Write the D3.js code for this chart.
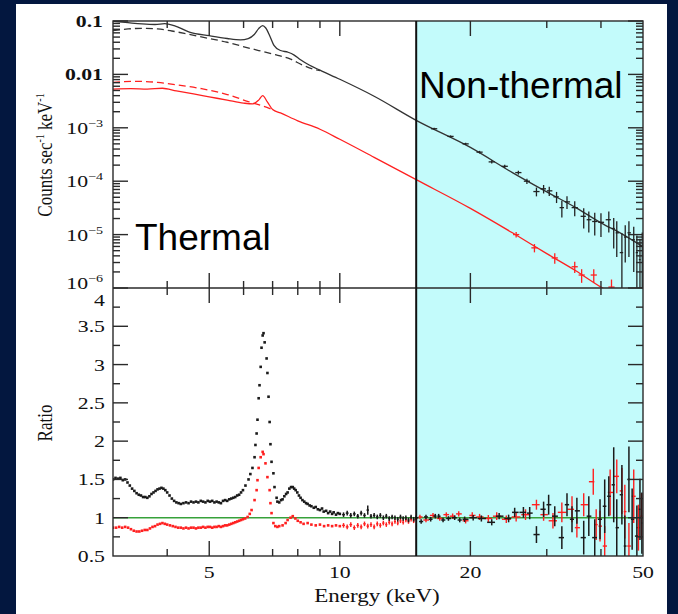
<!DOCTYPE html>
<html>
<head>
<meta charset="utf-8">
<script src="https://cdn.jsdelivr.net/npm/d3@7"></script>
<style>
  html, body { margin: 0; padding: 0; background: #03173f; }
  svg { display: block; }
</style>
</head>
<body>
<svg id="chart" width="678" height="614"></svg>
<script>
// ---- data ----
// top panel model curves: [energy keV, counts/s/keV]
var blackTotal = [[3.0,0.098],[3.2,0.094],[3.5,0.088],[3.75,0.086],[3.95,0.089],[4.15,0.082],[4.5,0.062],
  [5.0,0.053],[5.5,0.047],[5.9,0.0445],[6.15,0.047],[6.35,0.056],[6.5,0.072],[6.64,0.082],[6.75,0.074],
  [6.9,0.052],[7.05,0.035],[7.3,0.028],[7.6,0.026],[7.85,0.023],[8.1,0.019],[8.5,0.0150],[9.0,0.0120],
  [10,0.0081],[12,0.0039],[15,0.00138],[20,4.3e-4],[25,1.45e-4],[30,6.3e-5],[35,3.2e-5],[40,1.66e-5],
  [45,1.0e-5],[50,5.9e-6]];
var blackCont = [[3.0,0.066],[3.25,0.071],[3.5,0.073],[3.8,0.071],[4.1,0.065],[4.5,0.056],[5.0,0.047],
  [5.5,0.040],[5.9,0.0343],[6.5,0.028],[7.0,0.024],[7.7,0.0193],[8.2,0.0150],[8.7,0.0125],[9.0,0.0118]];
var redTotal = [[3.0,5.3e-3],[3.3,5.4e-3],[3.6,5.3e-3],[3.9,5.5e-3],[4.2,4.9e-3],[4.6,4.3e-3],[5.0,3.8e-3],
  [5.5,3.3e-3],[6.0,2.9e-3],[6.3,2.8e-3],[6.5,3.3e-3],[6.64,4.0e-3],[6.8,3.1e-3],[7.0,2.2e-3],[7.3,1.9e-3],
  [8.0,1.35e-3],[9.0,9.4e-4],[10,6.1e-4],[12,2.8e-4],[15,1.07e-4],[20,3.1e-5],[25,1.08e-5],[30,4.4e-6],
  [35,2.1e-6],[40,1.04e-6],[43,7.5e-7]];
var redCont = [[3.0,7.1e-3],[3.4,7.4e-3],[3.8,7.1e-3],[4.2,6.4e-3],[4.8,5.4e-3],[5.5,4.2e-3],[6.15,3.1e-3],
  [6.6,2.6e-3],[7.0,2.2e-3]];

// top panel data crosses: [energy, counts, sigma]
var blackTopPts = [[16.5,9.6e-4,4e-5],[18,6.9e-4,3e-5],[19.5,5.0e-4,2.5e-5],[21,3.5e-4,2e-5],[22.4,2.3e-4,1.6e-5],
  [24,1.9e-4,1.4e-5],[25.8,1.45e-4,1.2e-5],[27,1.0e-4,1.1e-5],[28.4,6.4e-5,1.2e-5],[29.5,7.2e-5,1.3e-5],
  [30.4,6.6e-5,1.3e-5],[31.6,5.1e-5,1.2e-5],[32.5,3.2e-5,1.1e-5],[33.4,4.1e-5,1.1e-5],[34.8,3.2e-5,1.0e-5],
  [36.5,2.2e-5,9e-6],[37.5,1.9e-5,8e-6],[38.7,1.76e-5,8e-6],[40.0,1.7e-5,8e-6],[41.7,1.9e-5,8e-6],
  [42.8,1.3e-5,7.5e-6],[43.5,1.08e-5,7e-6],[44.7,4.6e-6,6e-6],[45.5,9e-6,6e-6],[46.4,1.08e-5,7e-6],
  [47.6,8.0e-6,6e-6],[48.4,4.6e-6,5e-6],[49.2,3.4e-6,5e-6],[49.8,6e-6,5e-6]];
var redTopPts = [[25.5,1.0e-5,1.2e-6],[28.1,5.65e-6,1.0e-6],[31.3,3.66e-6,8e-7],[34.8,2.5e-6,6e-7],
  [36.1,1.75e-6,5e-7],[38.5,1.75e-6,5e-7],[42.3,1.04e-6,4e-7]];

// ratio panel, dense low-energy bins: [energy, ratio]
var ratioBlackLow = [[3.00,1.50],[3.04,1.52],[3.08,1.51],[3.12,1.52],[3.16,1.49],[3.20,1.50],[3.24,1.46],
  [3.28,1.42],[3.32,1.38],[3.36,1.35],[3.40,1.32],[3.44,1.30],[3.48,1.29],[3.52,1.27],[3.56,1.27],[3.60,1.26],
  [3.64,1.28],[3.68,1.31],[3.72,1.33],[3.76,1.35],[3.80,1.37],[3.84,1.38],[3.88,1.39],[3.92,1.38],[3.96,1.36],
  [4.00,1.33],[4.05,1.29],[4.10,1.25],[4.15,1.22],[4.20,1.20],[4.25,1.19],[4.30,1.18],[4.36,1.19],[4.42,1.20],
  [4.48,1.19],[4.54,1.21],[4.60,1.20],[4.66,1.21],[4.72,1.20],[4.78,1.22],[4.84,1.21],[4.90,1.20],[4.96,1.22],
  [5.02,1.21],[5.08,1.22],[5.14,1.20],[5.20,1.21],[5.26,1.20],[5.32,1.19],[5.38,1.22],[5.44,1.23],[5.50,1.22],
  [5.56,1.24],[5.62,1.25],[5.68,1.26],[5.74,1.27],[5.80,1.29],[5.86,1.30],[5.92,1.33],[5.98,1.36],[6.06,1.42],
  [6.16,1.50],[6.22,1.57],[6.29,1.65],[6.36,1.79],[6.39,1.95],[6.43,2.10],[6.46,2.28],[6.50,2.56],[6.53,2.73],
  [6.57,2.97],[6.60,3.22],[6.64,3.38],[6.67,3.41],[6.71,3.29],[6.78,3.08],[6.81,2.89],[6.85,2.58],[6.89,2.25],
  [6.92,1.96],[6.96,1.73],[7.03,1.58],[7.07,1.40],[7.15,1.26],[7.18,1.21],[7.25,1.20],[7.32,1.23],[7.38,1.24],
  [7.45,1.28],[7.52,1.31],[7.58,1.33],[7.65,1.38],[7.72,1.40],[7.79,1.40],[7.85,1.38],[7.91,1.36],[7.98,1.33],
  [8.05,1.29],[8.12,1.26],[8.20,1.23],[8.28,1.21],[8.36,1.19],[8.43,1.18],[8.52,1.16],[8.60,1.15],[8.71,1.13],
  [8.80,1.14],[8.90,1.11],[9.00,1.10],[9.10,1.12],[9.18,1.08],[9.30,1.09],[9.40,1.06],[9.50,1.08],[9.60,1.05],
  [9.68,1.07],[9.80,1.04],[9.90,1.06],[10.0,1.05]];
var ratioRedLow = [[3.00,0.87],[3.05,0.87],[3.10,0.88],[3.15,0.87],[3.20,0.88],[3.25,0.87],[3.30,0.85],
  [3.35,0.83],[3.40,0.82],[3.45,0.82],[3.50,0.83],[3.55,0.84],[3.60,0.84],[3.65,0.86],[3.70,0.88],[3.75,0.89],
  [3.80,0.91],[3.85,0.92],[3.90,0.93],[3.95,0.92],[4.00,0.91],[4.06,0.90],[4.12,0.89],[4.18,0.88],[4.24,0.87],
  [4.30,0.87],[4.36,0.86],[4.42,0.87],[4.48,0.86],[4.54,0.87],[4.60,0.87],[4.66,0.86],[4.72,0.87],[4.78,0.87],
  [4.84,0.88],[4.90,0.87],[4.96,0.88],[5.02,0.88],[5.08,0.87],[5.14,0.88],[5.20,0.88],[5.26,0.89],[5.32,0.88],
  [5.38,0.89],[5.44,0.90],[5.50,0.90],[5.56,0.91],[5.62,0.92],[5.68,0.93],[5.74,0.94],[5.80,0.95],[5.86,0.96],
  [5.92,0.97],[5.98,0.98],[6.05,0.99],[6.13,1.01],[6.20,1.05],[6.26,1.10],[6.36,1.23],[6.43,1.36],[6.46,1.49],
  [6.50,1.65],[6.57,1.79],[6.64,1.86],[6.67,1.83],[6.74,1.71],[6.81,1.53],[6.89,1.36],[6.92,1.19],[6.96,1.06],
  [7.03,0.93],[7.10,0.89],[7.18,0.88],[7.25,0.89],[7.38,0.90],[7.50,0.93],[7.58,0.97],[7.70,1.00],[7.79,1.02],
  [7.90,0.99],[8.00,0.96],[8.12,0.94],[8.25,0.92],[8.43,0.93],[8.60,0.91],[8.80,0.90],[9.00,0.91],[9.20,0.89],
  [9.40,0.90],[9.60,0.89],[9.80,0.90],[10.0,0.89]];

// ratio panel, binned points with error bars: [energy, ratio, sigma]
var ratioBlackHigh = [[10.2,1.04,0.03],[10.4,1.06,0.03],[10.6,1.03,0.03],[10.8,1.05,0.03],[11.0,1.02,0.03],
  [11.2,1.06,0.03],[11.4,1.03,0.03],[11.6,1.10,0.06],[11.8,1.02,0.03],[12.0,1.03,0.03],[12.2,1.01,0.03],
  [12.4,1.03,0.03],[12.6,1.00,0.03],[12.8,1.02,0.03],[13.0,0.99,0.03],[13.2,1.01,0.03],[13.4,1.00,0.03],
  [13.6,0.98,0.03],[13.8,1.01,0.03],[14.0,0.99,0.03],[14.2,1.00,0.03],[14.4,0.97,0.03],[14.6,1.01,0.03],
  [14.8,0.98,0.03],[15.0,1.00,0.03],[15.4,0.95,0.03],[15.8,1.01,0.03],[16.2,0.98,0.03],[16.6,1.02,0.03],
  [16.9,1.02,0.03],[17.3,0.97,0.03],[17.8,0.99,0.03],[18.4,1.00,0.03],[18.9,0.97,0.03],[19.4,0.98,0.035],
  [20.3,1.00,0.035],[21.2,0.99,0.04],[22.4,0.94,0.04],[23.3,1.02,0.04],[24.5,0.99,0.05],[25.3,1.07,0.06],
  [26.5,1.07,0.07],[27.4,1.06,0.08],[28.4,0.78,0.11],[29.5,1.11,0.10],[30.3,1.17,0.13],[31.3,1.02,0.13],
  [32.5,0.74,0.15],[33.4,1.17,0.15],[34.3,0.98,0.17],[35.2,1.09,0.17],[36.5,0.74,0.22],[37.5,1.02,0.26],
  [38.7,0.74,0.24],[39.8,0.98,0.26],[40.8,1.15,0.35],[41.7,1.28,0.26],[42.8,1.43,0.49],[43.5,0.87,0.37],
  [44.7,1.30,0.39],[45.4,0.63,0.40],[46.4,1.50,0.43],[47.2,0.98,0.40],[48.4,0.76,0.40],[49.2,1.11,0.40],
  [49.7,0.93,0.40]];
var ratioRedHigh = [[10.2,0.90,0.03],[10.4,0.88,0.03],[10.6,0.91,0.03],[10.8,0.87,0.03],[11.0,0.90,0.03],
  [11.2,0.88,0.03],[11.4,0.92,0.03],[11.6,0.89,0.03],[11.8,0.91,0.03],[12.0,0.88,0.03],[12.2,0.92,0.03],
  [12.4,0.90,0.03],[12.6,0.93,0.03],[12.8,0.91,0.03],[13.0,0.94,0.03],[13.2,0.92,0.03],[13.4,0.95,0.03],
  [13.6,0.93,0.03],[13.8,0.96,0.03],[14.0,0.94,0.03],[14.2,0.97,0.03],[14.4,0.95,0.03],[14.6,0.98,0.03],
  [14.8,0.96,0.03],[15.0,0.99,0.03],[15.3,1.01,0.03],[15.8,0.97,0.03],[16.4,1.03,0.03],[17.0,0.99,0.03],
  [17.6,1.04,0.03],[18.2,1.02,0.035],[18.8,1.05,0.035],[19.5,0.96,0.035],[20.2,1.03,0.04],[21.0,1.01,0.04],
  [22.0,0.99,0.045],[23.0,1.02,0.05],[24.2,0.98,0.05],[25.5,1.01,0.06],[26.8,1.04,0.07],[28.4,1.17,0.065],
  [29.5,1.04,0.08],[31.0,0.96,0.10],[32.5,1.07,0.13],[34.3,1.11,0.17],[35.2,0.87,0.13],[36.5,1.17,0.15],
  [38.4,1.47,0.17],[39.0,0.91,0.20],[39.8,0.89,0.20],[40.8,0.63,0.26],[42.0,1.33,0.30],[43.5,1.54,0.22],
  [44.7,1.35,0.30],[45.4,1.08,0.35],[46.4,0.63,0.30],[47.6,1.28,0.35],[48.8,0.87,0.30],[49.6,1.02,0.30]];

// axes
var energyDomain = [3, 50];
var energyMinor = [4, 6, 7, 8, 9, 30, 40];
var energyMajor = [5, 10, 20, 50];
var energyLabels = ["5", "10", "20", "50"];
var countDomain = [1e-6, 0.1];
var countMajor = [0.1, 0.01, 1e-3, 1e-4, 1e-5, 1e-6];
var countLabels = ["0.1", "0.01", "10|\u22123", "10|\u22124", "10|\u22125", "10|\u22126"];
var ratioDomain = [0.5, 4];
var ratioMajor = [0.5, 1, 1.5, 2, 2.5, 3, 3.5, 4];
var ratioLabels = ["0.5", "1", "1.5", "2", "2.5", "3", "3.5", "4"];
var splitEnergy = 15;

// ---- layout ----
var W = 678, H = 614;
var frame = { left: 113, right: 643, top: 21, mid: 288, bottom: 556 };
var navy = "#03173f", ink = "#1a1a1a", red = "#ff2020", cyan = "#c3fbfb", green = "#36a13a";
var serif = "'Liberation Serif','DejaVu Serif',serif";

var svg = d3.select("#chart");
svg.append("rect").attr("width", W).attr("height", H).attr("fill", navy);
svg.append("rect").attr("x", 16).attr("y", 4).attr("width", 651).attr("height", 610).attr("fill", "#fff");

var x = d3.scaleLog().domain(energyDomain).range([frame.left, frame.right]);
var yTop = d3.scaleLog().domain(countDomain).range([frame.mid, frame.top]);
var yRat = d3.scaleLinear().domain(ratioDomain).range([frame.bottom, frame.mid]);

var defs = svg.append("defs");
defs.append("clipPath").attr("id", "clipTop").append("rect")
  .attr("x", frame.left).attr("y", frame.top)
  .attr("width", frame.right - frame.left).attr("height", frame.mid - frame.top);
defs.append("clipPath").attr("id", "clipBot").append("rect")
  .attr("x", frame.left).attr("y", frame.mid)
  .attr("width", frame.right - frame.left).attr("height", frame.bottom - frame.mid);

// non-thermal band
svg.append("rect")
  .attr("x", x(splitEnergy)).attr("y", frame.top)
  .attr("width", x(energyDomain[1]) - x(splitEnergy))
  .attr("height", frame.bottom - frame.top)
  .attr("fill", cyan);

var gTop = svg.append("g").attr("clip-path", "url(#clipTop)");
var gBot = svg.append("g").attr("clip-path", "url(#clipBot)");

// unity line
gBot.append("line")
  .attr("x1", x(energyDomain[0])).attr("x2", x(energyDomain[1]))
  .attr("y1", yRat(1)).attr("y2", yRat(1))
  .attr("stroke", green).attr("stroke-width", 1.6);

// ---- top panel ----
var countLine = d3.line()
  .x(function(d) { return x(d[0]); })
  .y(function(d) { return yTop(d[1]); })
  .curve(d3.curveMonotoneX);

function drawModel(data, color, dashed) {
  gTop.append("path")
    .attr("d", countLine(data))
    .attr("fill", "none")
    .attr("stroke", color)
    .attr("stroke-width", 1.3)
    .attr("stroke-dasharray", dashed ? "7,4" : null);
}
drawModel(redCont, red, true);
drawModel(redTotal, red, false);
drawModel(blackCont, "#333", true);
drawModel(blackTotal, "#333", false);

// cross marks, bin width taken from the neighbours (capped)
function drawCrosses(g, data, yScale, floor, color, width, maxHalf) {
  var n = data.length;
  data.forEach(function(d, i) {
    var cx = x(d[0]);
    var left = i > 0 ? (x(data[i - 1][0]) + cx) / 2 : cx - (x(data[1][0]) - cx) / 2;
    var right = i < n - 1 ? (x(data[i + 1][0]) + cx) / 2 : cx + (cx - x(data[i - 1][0])) / 2;
    left = Math.max(left, cx - maxHalf);
    right = Math.min(right, cx + maxHalf);
    var lo = d[1] - d[2] > floor ? d[1] - d[2] : floor;
    g.append("line")
      .attr("x1", left + 0.4).attr("x2", right - 0.4)
      .attr("y1", yScale(d[1])).attr("y2", yScale(d[1]))
      .attr("stroke", color).attr("stroke-width", width);
    g.append("line")
      .attr("x1", cx).attr("x2", cx)
      .attr("y1", yScale(d[1] + d[2])).attr("y2", yScale(lo))
      .attr("stroke", color).attr("stroke-width", width);
  });
}
drawCrosses(gTop, redTopPts, yTop, 1e-7, red, 1.3, 3.5);
drawCrosses(gTop, blackTopPts, yTop, 1e-7, "#222", 1.3, 3.5);

// ---- ratio panel ----
function drawDots(data, color) {
  gBot.selectAll(null)
    .data(data)
    .enter()
    .append("rect")
    .attr("x", function(d) { return x(d[0]) - 1.3; })
    .attr("y", function(d) { return yRat(d[1]) - 1.3; })
    .attr("width", 2.6)
    .attr("height", 2.6)
    .attr("fill", color);
}
drawDots(ratioRedLow, red);
drawDots(ratioBlackLow, ink);
drawCrosses(gBot, ratioRedHigh, yRat, 0.3, red, 1.4, 5);
drawCrosses(gBot, ratioBlackHigh, yRat, 0.3, ink, 1.5, 5);

// ---- frames and ticks ----
var axes = svg.append("g").attr("stroke", "#2a2a2a").attr("stroke-width", 1.4).attr("fill", "none");
function tick(x1, y1, x2, y2) {
  axes.append("line").attr("x1", x1).attr("y1", y1).attr("x2", x2).attr("y2", y2);
}
var MAJ = 15, MIN = 7;

[[frame.top, frame.mid], [frame.mid, frame.bottom]].forEach(function(p) {
  energyMajor.concat(energyMinor).forEach(function(e) {
    if (e >= energyDomain[1]) return;
    var len = energyMajor.indexOf(e) >= 0 ? MAJ : MIN;
    tick(x(e), p[0], x(e), p[0] + len);
    tick(x(e), p[1], x(e), p[1] - len);
  });
});

// log ticks on the count axis
for (var k = -6; k <= -1; k++) {
  for (var m = 1; m <= 9; m++) {
    var v = m * Math.pow(10, k);
    if (v > countDomain[1] * 1.0001) break;
    var len = m === 1 ? MAJ : MIN;
    tick(frame.left, yTop(v), frame.left + len, yTop(v));
    tick(frame.right, yTop(v), frame.right - len, yTop(v));
  }
}
// ratio ticks every 0.25
d3.range(0.75, 4, 0.25).forEach(function(r) {
  var len = Math.abs(r * 2 - Math.round(r * 2)) < 1e-6 ? MAJ : MIN;
  tick(frame.left, yRat(r), frame.left + len, yRat(r));
  tick(frame.right, yRat(r), frame.right - len, yRat(r));
});

axes.append("rect")
  .attr("x", frame.left).attr("y", frame.top)
  .attr("width", frame.right - frame.left).attr("height", frame.bottom - frame.top);
axes.append("line")
  .attr("x1", frame.left).attr("x2", frame.right)
  .attr("y1", frame.mid).attr("y2", frame.mid);

// thermal / non-thermal divider
svg.append("line")
  .attr("x1", x(splitEnergy)).attr("x2", x(splitEnergy))
  .attr("y1", frame.top).attr("y2", frame.bottom)
  .attr("stroke", "#111").attr("stroke-width", 2);

// ---- text ----
function serifText(px, py, anchor, size, extra) {
  return svg.append("text")
    .attr("transform", "translate(" + px + "," + py + ") scale(1.28,1)" + (extra || ""))
    .attr("text-anchor", anchor)
    .attr("font-family", serif)
    .attr("font-size", size)
    .attr("fill", "#111");
}
function labelWithExp(t, s) {
  var parts = s.split("|");
  t.append("tspan").text(parts[0]);
  if (parts[1]) t.append("tspan").attr("dy", -7).attr("font-size", 11).text(parts[1]);
}

countMajor.forEach(function(v, i) {
  var py = yTop(v) + 6;
  if (i === countMajor.length - 1) py -= 5;
  var t = serifText(103, py, "end", 17);
  if (v >= 0.01) t.attr("font-weight", "bold");
  labelWithExp(t, countLabels[i]);
});
ratioMajor.forEach(function(r, i) {
  var py = yRat(r) + 6;
  if (r === ratioDomain[1]) py += 12;
  serifText(105, py, "end", 17).text(ratioLabels[i]);
});
energyMajor.forEach(function(e, i) {
  serifText(x(e), 578, "middle", 17).text(energyLabels[i]);
});
serifText(377, 602, "middle", 18).text("Energy (keV)");

var yl = serifText(52, 155, "middle", 17, " rotate(-90)");
yl.append("tspan").text("Counts sec");
yl.append("tspan").attr("dy", -6).attr("font-size", 10).text("-1");
yl.append("tspan").attr("dy", 6).text(" keV");
yl.append("tspan").attr("dy", -6).attr("font-size", 10).text("-1");
serifText(52, 423, "middle", 17, " rotate(-90)").text("Ratio");

svg.append("text")
  .attr("x", 135).attr("y", 250)
  .attr("font-family", "'Liberation Sans',Arial,sans-serif")
  .attr("font-size", 37).attr("fill", "#000")
  .text("Thermal");
svg.append("text")
  .attr("x", 419).attr("y", 98)
  .attr("font-family", "'Liberation Sans',Arial,sans-serif")
  .attr("font-size", 37).attr("fill", "#000")
  .text("Non-thermal");
</script>
</body>
</html>
